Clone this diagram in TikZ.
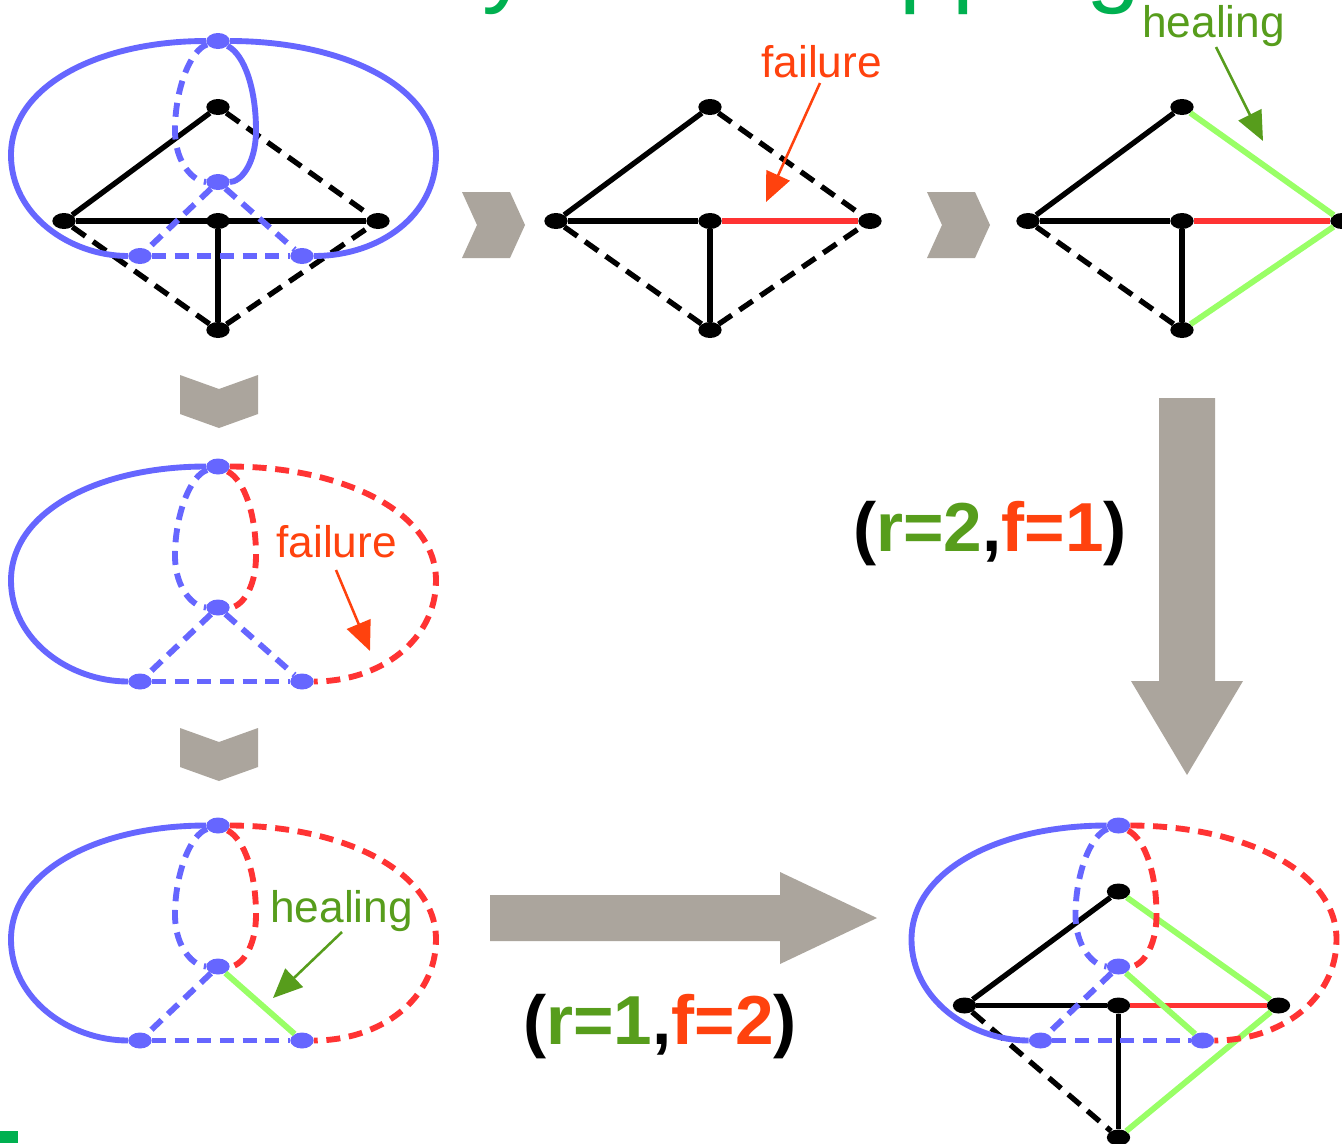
\documentclass[tikz,border=0pt]{standalone}
\usepackage{fontspec}
\setmainfont{Liberation Sans}
\usetikzlibrary{shapes.geometric,arrows.meta}
\definecolor{bluegr}{HTML}{6666FF}
\definecolor{redgr}{HTML}{FF3333}
\definecolor{lightgr}{HTML}{99FF66}
\definecolor{arrowgrey}{HTML}{ABA59D}
\definecolor{labgreen}{HTML}{579D1C}
\definecolor{laborange}{HTML}{FF420E}
\definecolor{titlegreen}{HTML}{00B050}
\tikzset{
  bn/.style={ellipse,fill=bluegr,inner sep=0pt,minimum width=17.5pt,minimum height=12pt},
  kn/.style={ellipse,fill=black,inner sep=0pt,minimum width=17.5pt,minimum height=12pt},
  bsolid/.style={draw=bluegr,line width=4.4pt},
  bdash/.style={draw=bluegr,line width=4.4pt,dash pattern=on 10.5pt off 6.5pt},
  rdash/.style={draw=redgr,line width=4.4pt,dash pattern=on 10.5pt off 6.5pt},
  ksolid/.style={draw=black,line width=4pt},
  kdash/.style={draw=black,line width=4pt,dash pattern=on 12pt off 7pt},
  rsolid/.style={draw=redgr,line width=4pt},
  gsolid/.style={draw=lightgr,line width=4.4pt},
  chev/.style={fill=arrowgrey,draw=none},
  lab/.style={font=\fontsize{33.2}{40}\selectfont,anchor=base west,inner sep=0pt},
  ratio/.style={font=\fontsize{52}{60}\bfseries\selectfont,anchor=base west,inner sep=0pt},
  title/.style={font=\fontsize{73}{90}\selectfont,text=titlegreen,anchor=base west,inner sep=0pt},
  orangearrow/.style={draw=laborange,line width=1.9pt,-{Triangle[length=22pt,width=19pt,fill=laborange]}},
  greenarrow/.style={draw=labgreen,line width=1.9pt,-{Triangle[length=22pt,width=19pt,fill=labgreen]}},
}
% blue graph: prefix, outer right style, inner right style, mid-right style
\newcommand\bluegraph[4]{
  \node[bn] (#1t) at (218,41) {};
  \node[bn] (#1m) at (218,182) {};
  \node[bn] (#1l) at (140,256) {};
  \node[bn] (#1r) at (302,256) {};
  \draw[bsolid] (#1t) .. controls (100,41) and (11,85) .. (11,155) .. controls (11,215) and (70,256) .. (#1l);
  \draw[#2] (#1t) .. controls (340,41) and (436,85) .. (436,155) .. controls (436,215) and (380,256) .. (#1r);
  \draw[bdash] (#1t) .. controls (190,50) and (175,90) .. (175,130) .. controls (175,165) and (195,182) .. (#1m);
  \draw[#3] (#1t) .. controls (245,55) and (256,90) .. (256,130) .. controls (256,165) and (240,182) .. (#1m);
  \draw[bdash] (#1m) -- (#1l);
  \draw[#4] (#1m) -- (#1r);
  \draw[bdash] (#1l) -- (#1r);
}
% black nodes: prefix, bottom y
\newcommand\blacknodes[2]{
  \node[kn] (#1a) at (218,107) {};
  \node[kn] (#1b) at (64,221) {};
  \node[kn] (#1c) at (218,221) {};
  \node[kn] (#1d) at (378,221) {};
  \node[kn] (#1e) at (218,#2) {};
}
\begin{document}
\begin{tikzpicture}[x=0.75pt,y=-0.75pt]
\clip (0,0) rectangle (1342,1143);
\fill[white] (0,0) rectangle (1342,1143);
% cropped title glyphs
\node[title] (ty) at (482,-6) {y};
\node[title] (tp) at (899,-6) {p};
\node[title] (tq) at (952,-6) {p};
\node[title] (tg) at (1086,-6) {g};
\fill[titlegreen] (0,1131) rectangle (18,1143);
% chevrons and big arrows
\fill[chev] (462,192) -- (510,192) -- (525,225) -- (510,258) -- (462,258) -- (477,225) -- cycle;
\fill[chev] (927,192) -- (975,192) -- (990,225) -- (975,258) -- (927,258) -- (942,225) -- cycle;
\fill[chev] (180,375) -- (219,389) -- (258,375) -- (258,414) -- (219,428) -- (180,414) -- cycle;
\fill[chev] (180,728) -- (219,742) -- (258,728) -- (258,767) -- (219,781) -- (180,767) -- cycle;
\fill[chev] (1159,398) -- (1215,398) -- (1215,681) -- (1243,681) -- (1187,775) -- (1131,681) -- (1159,681) -- cycle;
\fill[chev] (490,895) -- (780,895) -- (780,872) -- (877,918) -- (780,964) -- (780,941) -- (490,941) -- cycle;
% graph 1
\begin{scope}
  \blacknodes{p}{330}
  \draw[ksolid] (pa) -- (pb);
  \draw[kdash] (pa) -- (pd);
  \draw[ksolid] (pb) -- (pd);
  \draw[kdash] (pb) -- (pe);
  \draw[ksolid] (pc) -- (pe);
  \draw[kdash] (pe) -- (pd);
  \bluegraph{P}{bsolid}{bsolid}{bdash}
\end{scope}
% failure physical
\begin{scope}[shift={(492,0)}]
  \blacknodes{q}{330}
  \draw[ksolid] (qa) -- (qb);
  \draw[kdash] (qa) -- (qd);
  \draw[ksolid] (qb) -- (qc);
  \draw[rsolid] (qc) -- (qd);
  \draw[kdash] (qb) -- (qe);
  \draw[ksolid] (qc) -- (qe);
  \draw[kdash] (qe) -- (qd);
\end{scope}
% healing physical
\begin{scope}[shift={(964,0)}]
  \blacknodes{s}{330}
  \draw[ksolid] (sa) -- (sb);
  \draw[gsolid] (sa) -- (sd);
  \draw[ksolid] (sb) -- (sc);
  \draw[rsolid] (sc) -- (sd);
  \draw[kdash] (sb) -- (se);
  \draw[ksolid] (sc) -- (se);
  \draw[gsolid] (se) -- (sd);
\end{scope}
% failure virtual
\begin{scope}[shift={(0,425.5)}]
  \bluegraph{Q}{rdash}{rdash}{bdash}
\end{scope}
% healing virtual
\begin{scope}[shift={(0,784.5)}]
  \bluegraph{R}{rdash}{rdash}{gsolid}
\end{scope}
% combined
\begin{scope}[shift={(900.5,784.5)}]
  \blacknodes{u}{353}
  \draw[ksolid] (ua) -- (ub);
  \draw[gsolid] (ua) -- (ud);
  \draw[ksolid] (ub) -- (uc);
  \draw[rsolid] (uc) -- (ud);
  \draw[kdash] (ub) -- (ue);
  \draw[ksolid] (uc) -- (ue);
  \draw[gsolid] (ue) -- (ud);
  \bluegraph{U}{rdash}{rdash}{gsolid}
\end{scope}
% labels
\node[lab,text=laborange] (f1) at (761,77) {failure};
\node[lab,text=labgreen] (h1) at (1142,37) {healing};
\node[lab,text=laborange] (f2) at (276,557) {failure};
\node[lab,text=labgreen] (h2) at (270,922) {healing};
\coordinate (f1a) at (820,83);
\coordinate (f1b) at (766,202);
\coordinate (h1a) at (1216,47);
\coordinate (h1b) at (1263,141);
\coordinate (f2a) at (336,570);
\coordinate (f2b) at (370,651);
\coordinate (h2a) at (342,932);
\coordinate (h2b) at (273,998);
\draw[orangearrow] (f1a) -- (f1b);
\draw[greenarrow] (h1a) -- (h1b);
\draw[orangearrow] (f2a) -- (f2b);
\draw[greenarrow] (h2a) -- (h2b);
\node[ratio] (r1) at (853,551) {(\textcolor{labgreen}{r=2},\textcolor{laborange}{f=1})};
\node[ratio] (r2) at (523,1044) {(\textcolor{labgreen}{r=1},\textcolor{laborange}{f=2})};
\end{tikzpicture}
\end{document}
